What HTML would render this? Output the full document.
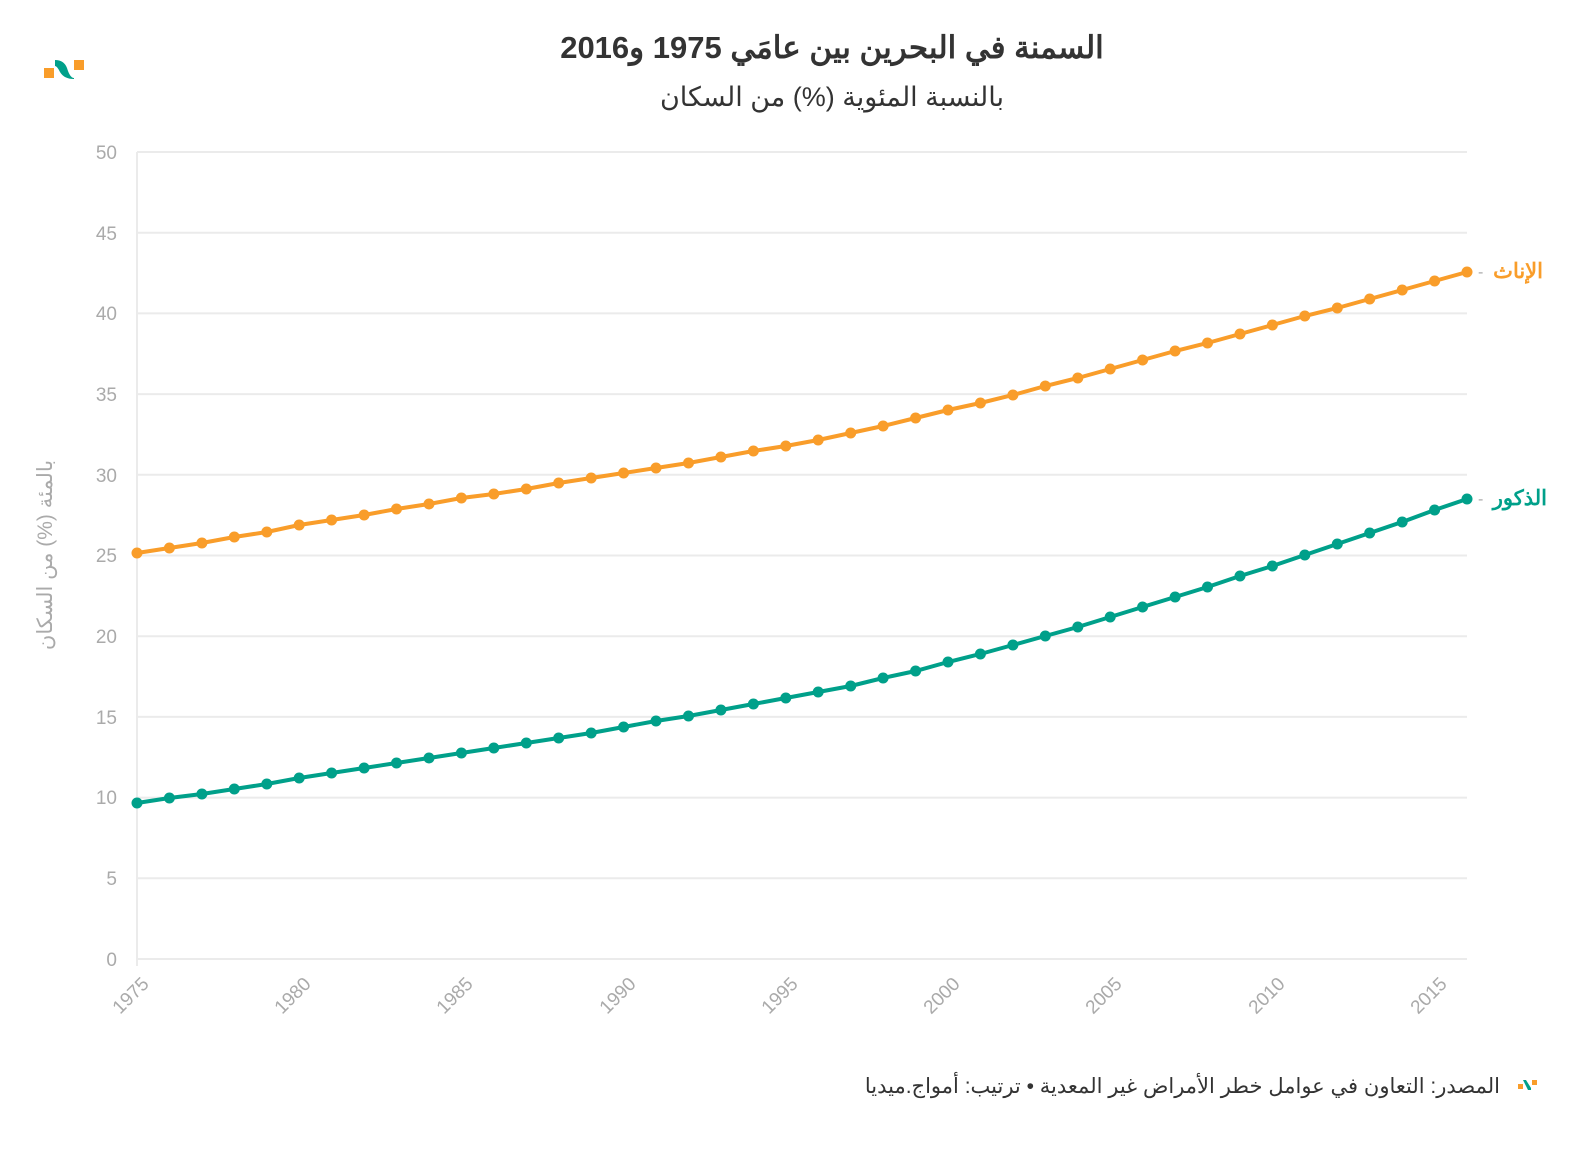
<!DOCTYPE html>
<html><head><meta charset="utf-8"><style>
body{margin:0;background:#fff;width:1592px;height:1150px;overflow:hidden;font-family:"Liberation Sans","Noto Sans CJK SC",sans-serif}
</style></head><body>
<svg width="1592" height="1150" xmlns="http://www.w3.org/2000/svg" font-family="Liberation Sans, Noto Sans CJK SC, sans-serif">
<defs>
<marker id="mo" markerUnits="userSpaceOnUse" markerWidth="14" markerHeight="14" refX="7" refY="7"><circle cx="7" cy="7" r="5.5" fill="#f99d2a"/></marker>
<marker id="mg" markerUnits="userSpaceOnUse" markerWidth="14" markerHeight="14" refX="7" refY="7"><circle cx="7" cy="7" r="5.5" fill="#00a08a"/></marker>
</defs>
<rect x="44" y="68" width="10" height="10" fill="#f99d2a"/>
<rect x="74" y="60" width="10" height="10" fill="#f99d2a"/>
<path d="M55 60 Q64 60 67 68 Q70 78 74 78 L74 79 Q64 79 60 72 Q57 66 55 66Z" fill="#00a08a"/>
<text x="832" y="58" text-anchor="middle" font-size="31" font-weight="bold" fill="#333">السمنة في البحرين بين عامَي 1975 و2016</text>
<text x="832" y="106" text-anchor="middle" font-size="27" fill="#333">بالنسبة المئوية (%) من السكان</text>
<g stroke="#ebebeb" stroke-width="2">
<line x1="137" x2="1467" y1="152" y2="152"/><line x1="137" x2="1467" y1="232.7" y2="232.7"/><line x1="137" x2="1467" y1="313.4" y2="313.4"/><line x1="137" x2="1467" y1="394.1" y2="394.1"/><line x1="137" x2="1467" y1="474.8" y2="474.8"/><line x1="137" x2="1467" y1="555.5" y2="555.5"/><line x1="137" x2="1467" y1="636.2" y2="636.2"/><line x1="137" x2="1467" y1="716.9" y2="716.9"/><line x1="137" x2="1467" y1="797.6" y2="797.6"/><line x1="137" x2="1467" y1="878.3" y2="878.3"/><line x1="137" x2="1467" y1="959" y2="959"/>
<line x1="137" x2="137" y1="152" y2="966"/>
</g>
<g font-size="19" fill="#aaa" text-anchor="end">
<text x="117" y="159">50</text><text x="117" y="240">45</text><text x="117" y="320">40</text><text x="117" y="401">35</text><text x="117" y="482">30</text><text x="117" y="562">25</text><text x="117" y="643">20</text><text x="117" y="724">15</text><text x="117" y="804">10</text><text x="117" y="885">5</text><text x="117" y="966">0</text>
</g>
<g font-size="19" fill="#aaa" text-anchor="end">
<text transform="translate(150,985) rotate(-45)">1975</text>
<text transform="translate(312,985) rotate(-45)">1980</text>
<text transform="translate(474,985) rotate(-45)">1985</text>
<text transform="translate(637,985) rotate(-45)">1990</text>
<text transform="translate(799,985) rotate(-45)">1995</text>
<text transform="translate(961,985) rotate(-45)">2000</text>
<text transform="translate(1123,985) rotate(-45)">2005</text>
<text transform="translate(1286,985) rotate(-45)">2010</text>
<text transform="translate(1448,985) rotate(-45)">2015</text>
</g>
<text transform="translate(52,555) rotate(-90)" text-anchor="middle" font-size="21" fill="#aaa">بالمئة (%) من السكان</text>
<polyline fill="none" stroke="#f99d2a" stroke-width="4" marker-start="url(#mo)" marker-mid="url(#mo)" marker-end="url(#mo)" points="137,553 169.4,548 201.9,543 234.3,537 266.8,532 299.2,525 331.6,520 364.1,515 396.5,509 429,504 461.4,498 493.8,494 526.3,489 558.7,483 591.2,478 623.6,473 656,468 688.5,463 720.9,457 753.4,451 785.8,446 818.2,440 850.7,433 883.1,426 915.6,418 948,410 980.4,403 1012.9,395 1045.3,386 1077.8,378 1110.2,369 1142.6,360 1175.1,351 1207.5,343 1240,334 1272.4,325 1304.8,316 1337.3,308 1369.7,299 1402.2,290 1434.6,281 1467,272"/>
<polyline fill="none" stroke="#00a08a" stroke-width="4" marker-start="url(#mg)" marker-mid="url(#mg)" marker-end="url(#mg)" points="137,803 169.4,798 201.9,794 234.3,789 266.8,784 299.2,778 331.6,773 364.1,768 396.5,763 429,758 461.4,753 493.8,748 526.3,743 558.7,738 591.2,733 623.6,727 656,721 688.5,716 720.9,710 753.4,704 785.8,698 818.2,692 850.7,686 883.1,678 915.6,671 948,662 980.4,654 1012.9,645 1045.3,636 1077.8,627 1110.2,617 1142.6,607 1175.1,597 1207.5,587 1240,576 1272.4,566 1304.8,555 1337.3,544 1369.7,533 1402.2,522 1434.6,510 1467,499"/>
<text x="1478" y="277" font-size="16" fill="#aaa">-</text>
<text x="1543" y="278" text-anchor="end" font-size="21" font-weight="bold" fill="#f99d2a">الإناث</text>
<text x="1478" y="504" font-size="16" fill="#aaa">-</text>
<text x="1547" y="505" text-anchor="end" font-size="21" font-weight="bold" fill="#00a08a">الذكور</text>
<text x="1500" y="1093" text-anchor="end" font-size="21" fill="#333">المصدر: التعاون في عوامل خطر الأمراض غير المعدية • ترتيب: أمواج.ميديا</text>
<rect x="1518" y="1084" width="5" height="5" fill="#f99d2a"/>
<rect x="1532" y="1080" width="5" height="5" fill="#f99d2a"/>
<path d="M1523 1080 L1526 1080 L1531 1088 L1531 1090 L1528 1090 Z" fill="#00a08a"/>
</svg>
</body></html>
